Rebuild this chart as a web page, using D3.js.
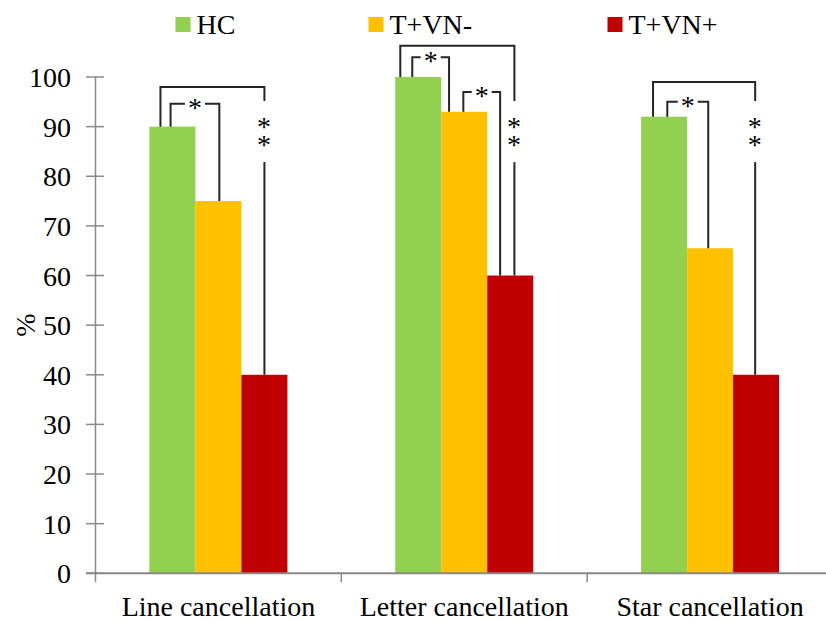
<!DOCTYPE html>
<html>
<head>
<meta charset="utf-8">
<script src="https://cdn.jsdelivr.net/npm/d3@7"></script>
<style>
  body { margin: 0; background: #fff; }
  svg { display: block; }
</style>
</head>
<body>
<svg id="chart" width="826" height="622"></svg>
<script>
// ---- data ----
const categories = ["Line cancellation", "Letter cancellation", "Star cancellation"];
const seriesNames = ["HC", "T+VN-", "T+VN+"];
const hcValues = [90, 100, 92];
const tvnMinusValues = [75, 93, 65.5];
const tvnPlusValues = [40, 60, 40];
const yTicks = [0, 10, 20, 30, 40, 50, 60, 70, 80, 90, 100];
const yLabel = "%";
// significance brackets: category index, from series, to series, label, top level (%)
const brackets = [
  { cat: 0, from: 0, to: 2, label: "**", top: 98 },
  { cat: 0, from: 0, to: 1, label: "*", top: 94.6 },
  { cat: 1, from: 0, to: 2, label: "**", top: 106.3 },
  { cat: 1, from: 0, to: 1, label: "*", top: 104 },
  { cat: 1, from: 1, to: 2, label: "*", top: 97 },
  { cat: 2, from: 0, to: 2, label: "**", top: 99 },
  { cat: 2, from: 0, to: 1, label: "*", top: 95 }
];

// ---- layout / style ----
const colors = ["#92D050", "#FFC000", "#C00000"];
const axisColor = "#898989";
const lineColor = "#262626";
const fs = 28;
const FONT = "'Liberation Serif', 'Times New Roman', Times, Tinos, serif";
// leg positions as fraction of bar width [fromFrac, toFrac] (per bracket, same order)
const legFrac = [[0.24, 0.5], [0.46, 0.52], [0.11, 0.59], [0.37, 0.17], [0.48, 0.28], [0.26, 0.48], [0.57, 0.46]];
const doubleStarLevel = 89; // % level where "**" sits in a vertical leg

const values = [hcValues, tvnMinusValues, tvnPlusValues];
const svg = d3.select("#chart");

function txt(sel) {
  return sel.append("text").attr("font-family", FONT).attr("font-size", fs).attr("fill", "#000");
}

const plot = { left: 95.5, right: 833, top: 77, bottom: 573.3 };

const y = d3.scaleLinear().domain([0, 100]).range([plot.bottom, plot.top]);
const x0 = d3.scaleBand().domain(d3.range(categories.length)).range([plot.left, plot.right]).padding(0);
const step = x0.bandwidth();
const groupW = step * 0.5614;
const x1 = d3.scaleBand().domain(d3.range(seriesNames.length))
  .range([(step - groupW) / 2, (step + groupW) / 2]).padding(0);
const bw = x1.bandwidth();

// bars
const g = svg.append("g");
categories.forEach((c, ci) => {
  seriesNames.forEach((s, si) => {
    g.append("rect")
      .attr("x", x0(ci) + x1(si))
      .attr("y", y(values[si][ci]))
      .attr("width", bw)
      .attr("height", y(0) - y(values[si][ci]))
      .attr("fill", colors[si]);
  });
});

// y axis
const yAxis = svg.append("g");
yAxis.append("line").attr("x1", plot.left).attr("x2", plot.left)
  .attr("y1", y(100)).attr("y2", y(0)).attr("stroke", axisColor).attr("stroke-width", 1.5);
yTicks.forEach(t => {
  yAxis.append("line").attr("x1", plot.left - 9.5).attr("x2", plot.left + 8.5)
    .attr("y1", y(t)).attr("y2", y(t)).attr("stroke", axisColor).attr("stroke-width", 1.5);
  txt(yAxis).attr("x", 71).attr("y", y(t) + 10).attr("text-anchor", "end").text(t);
});

// x axis
const xAxis = svg.append("g");
xAxis.append("line").attr("x1", plot.left - 9.5).attr("x2", 826)
  .attr("y1", plot.bottom).attr("y2", plot.bottom).attr("stroke", axisColor).attr("stroke-width", 2);
d3.range(categories.length).forEach(ci => {
  xAxis.append("line").attr("x1", x0(ci)).attr("x2", x0(ci))
    .attr("y1", plot.bottom).attr("y2", plot.bottom + 9).attr("stroke", axisColor).attr("stroke-width", 1.5);
  txt(xAxis).attr("x", x0(ci) + step / 2).attr("y", 616).attr("text-anchor", "middle").text(categories[ci]);
});

// y label
txt(svg).attr("transform", `translate(35, ${(plot.top + plot.bottom) / 2}) rotate(-90)`)
  .attr("text-anchor", "middle").text(yLabel);

// brackets
const bg = svg.append("g").attr("fill", "none").attr("stroke", lineColor).attr("stroke-width", 2);
brackets.forEach((b, i) => {
  const xa = x0(b.cat) + x1(b.from) + bw * legFrac[i][0];
  const xb = x0(b.cat) + x1(b.to) + bw * legFrac[i][1];
  const yt = y(b.top);
  const ya = y(values[b.from][b.cat]);
  const yb = y(values[b.to][b.cat]);
  if (b.label === "*") {
    const mid = (xa + xb) / 2;
    const gap = 10;
    bg.append("path").attr("d", `M${xa},${ya}V${yt}H${mid - gap}`);
    bg.append("path").attr("d", `M${mid + gap},${yt}H${xb}V${yb}`);
    txt(svg).attr("x", mid).attr("y", yt + 13).attr("text-anchor", "middle").text("*");
  } else {
    const yc = y(doubleStarLevel);
    const gap = 30.5;
    bg.append("path").attr("d", `M${xa},${ya}V${yt}H${xb}V${yc - gap}`);
    bg.append("path").attr("d", `M${xb},${yc + gap}V${yb}`);
    // stacked double asterisk as one text, written vertically
    txt(svg).attr("x", xb - 0.5).attr("y", yc - 3)
      .attr("text-anchor", "middle")
      .style("writing-mode", "vertical-rl")
      .style("text-orientation", "upright")
      .style("letter-spacing", "-13px")
      .text(b.label);
  }
});

// legend
const legendX = [175.5, 368.5, 607.5];
seriesNames.forEach((s, si) => {
  svg.append("rect").attr("x", legendX[si]).attr("y", 17).attr("width", 15).attr("height", 15)
    .attr("fill", colors[si]);
  txt(svg).attr("x", legendX[si] + 21).attr("y", 34).text(s);
});
</script>
</body>
</html>
